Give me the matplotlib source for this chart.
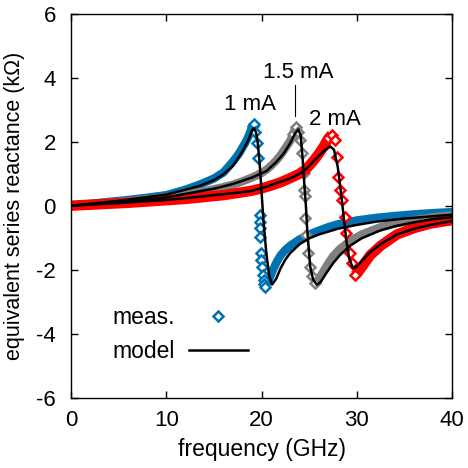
import numpy as np
import matplotlib
matplotlib.use("Agg")
import matplotlib.pyplot as plt
from matplotlib.lines import Line2D

plt.rcParams["font.family"] = ["Liberation Sans", "DejaVu Sans"]
plt.rcParams["axes.unicode_minus"] = False

# --------- data ---------
# measured, 1 mA
blue_f = [0, 2, 4, 6, 8, 10, 12, 13.5, 15, 16, 17, 17.6, 18.2, 18.6, 18.9, 19.1, 19.2,
          19.35, 19.5, 19.65, 19.8, 19.82, 19.84, 19.86, 19.95, 19.98, 20.0, 20.1, 20.2, 20.25, 20.4,
          20.8, 21.2, 21.6, 22.0, 22.5, 23, 24, 25, 26, 27, 28, 30, 32, 34, 36, 38, 40]
blue_x = [0.0, 0.06, 0.12, 0.18, 0.25, 0.33, 0.5, 0.66, 0.85, 1.04, 1.38, 1.62, 1.92, 2.15, 2.38, 2.5, 2.55,
          2.3, 1.95, 1.48, -0.3, -0.5, -0.71, -0.97, -1.49, -1.7, -1.91, -2.17, -2.32, -2.45, -2.53,
          -2.3, -2.0, -1.75, -1.55, -1.38, -1.25, -1.05, -0.9, -0.78, -0.67, -0.58, -0.46, -0.38, -0.32, -0.27, -0.23, -0.2]

# measured, 1.5 mA
gray_f = [0, 2, 4, 6, 8, 10, 12, 14, 16, 17, 18, 19, 20, 20.5, 21, 21.5, 22, 22.5, 23, 23.3, 23.6,
          23.8, 24.0, 24.2, 24.4, 24.5, 24.55, 24.6, 24.7, 24.9, 25.1, 25.3, 25.6,
          26.0, 26.5, 27.0, 27.5, 28.2, 29.3, 30.5, 32.4, 34, 36, 38, 40]
gray_x = [0, 0.04, 0.09, 0.14, 0.2, 0.27, 0.35, 0.45, 0.58, 0.66, 0.76, 0.88, 1.02, 1.12, 1.25, 1.4, 1.58, 1.8, 2.02, 2.25, 2.46,
          2.3, 2.05, 1.64, 1.01, 0.49, 0.3, -0.4, -0.9, -1.49, -1.9, -2.2, -2.43,
          -2.3, -2.05, -1.8, -1.58, -1.36, -1.1, -0.9, -0.68, -0.56, -0.45, -0.36, -0.3]

# measured, 2 mA
red_f = [0, 2, 4, 6, 8, 10, 12, 14, 16, 18, 19, 20, 21, 22, 23, 24, 24.7, 25.5, 26, 26.5, 27.0, 27.35,
         27.7, 27.9, 28.05, 28.2, 28.4, 28.75, 28.9, 29.3, 29.45, 29.8,
         30.2, 30.8, 31.4, 32.5, 34.2, 36, 37.7, 40]
red_x = [0, 0.03, 0.06, 0.09, 0.13, 0.17, 0.21, 0.27, 0.33, 0.42, 0.47, 0.54, 0.63, 0.73, 0.86, 1.0, 1.15, 1.42, 1.62, 1.84, 2.1, 2.22,
         2.05, 1.53, 0.9, 0.49, 0.18, -0.34, -0.86, -1.49, -1.8, -2.17,
         -2.05, -1.8, -1.55, -1.25, -0.9, -0.7, -0.56, -0.45]

# model curves
bm_f = [0, 5, 10, 12, 13.5, 15, 16, 17, 18, 18.6, 19.0, 19.2, 19.4, 19.6, 19.8, 20.0, 20.2, 20.5, 20.8, 21.1,
        21.5, 22.0, 22.5, 23, 24, 25, 26, 28, 30, 32, 35, 38, 40]
bm_x = [0, 0.15, 0.35, 0.5, 0.62, 0.8, 0.98, 1.25, 1.7, 2.05, 2.35, 2.42, 2.3, 1.95, 1.3, 0.4, -0.5, -1.5, -2.2, -2.46,
        -2.3, -1.95, -1.68, -1.48, -1.2, -1.02, -0.9, -0.72, -0.6, -0.5, -0.4, -0.33, -0.28]

gm_f = [0, 5, 10, 13.5, 15, 17, 19, 20.5, 21.5, 22.3, 23.0, 23.5, 23.85, 24.1, 24.3, 24.5, 24.65, 24.8, 25.1, 25.4,
        25.8, 26.2, 26.8, 27.5, 28.2, 29.3, 30.5, 32.4, 34, 36, 38, 40]
gm_x = [0, 0.1, 0.26, 0.45, 0.53, 0.68, 0.88, 1.08, 1.35, 1.62, 1.95, 2.25, 2.38, 2.2, 1.5, 0.6, 0.0, -0.8, -1.9, -2.3,
        -2.47, -2.38, -2.1, -1.8, -1.55, -1.25, -1.02, -0.78, -0.64, -0.52, -0.42, -0.36]

rm_f = [0, 5, 10, 13.5, 15, 17, 18.75, 20.5, 21.5, 23.0, 24.0, 24.7, 25.5, 26.5, 27.2, 27.6, 28.0, 28.3, 28.6, 28.9,
        29.2, 29.6, 30.0, 30.6, 31.4, 32.5, 34.2, 36, 37.7, 40]
rm_x = [0, 0.08, 0.18, 0.28, 0.33, 0.39, 0.45, 0.59, 0.7, 0.85, 1.0, 1.15, 1.4, 1.7, 1.85, 1.75, 1.2, 0.5, -0.3, -1.1,
        -1.65, -1.96, -1.9, -1.7, -1.45, -1.2, -0.9, -0.72, -0.6, -0.48]

BLUE = "#0072b2"
GRAY = "#808080"
RED = "#ff0000"

series = [
    (blue_f, blue_x, bm_f, bm_x, BLUE, 6),
    (gray_f, gray_x, gm_f, gm_x, GRAY, 6),
    (red_f, red_x, rm_f, rm_x, RED, 7.5),
]

fig, ax = plt.subplots(figsize=(4.68, 4.68), dpi=100)
fig.subplots_adjust(left=0.152, right=0.966, bottom=0.150, top=0.971)

for mf, mx, lf, lx, col, bw in series:
    mf = np.array(mf)
    mx = np.array(mx)
    i_max = int(np.argmax(mx))
    i_min = int(np.argmin(mx))
    # dense measured points overlap into a band -> thick line on smooth branches
    ax.plot(mf[:i_max + 1], mx[:i_max + 1], color=col, lw=bw, solid_capstyle="butt", clip_on=False, zorder=2)
    ax.plot(mf[i_min:], mx[i_min:], color=col, lw=bw, solid_capstyle="butt", clip_on=False, zorder=2)
    # the jump: separate diamonds
    ax.plot(mf[i_max - 1:i_min + 1], mx[i_max - 1:i_min + 1], ls="none", marker="D", ms=5.5,
            mfc="white", mec=col, mew=1.8, zorder=2)
    ax.plot(lf, lx, color="black", lw=1.8, zorder=3)

ax.set_xlim(0, 40)
ax.set_ylim(-6, 6)
ax.set_xticks([0, 10, 20, 30, 40])
ax.set_yticks([-6, -4, -2, 0, 2, 4, 6])
ax.tick_params(direction="in", length=5, width=1, labelsize=16, top=True, right=True)
ax.tick_params(axis="x", pad=9)
ax.tick_params(axis="y", pad=11)
for sp in ax.spines.values():
    sp.set_linewidth(1)
ax.set_xlabel("frequency (GHz)", fontsize=16.5, labelpad=5)
ax.set_ylabel("equivalent series reactance (kΩ)", fontsize=15.5, labelpad=8)

# current labels
ax.text(18.8, 3.15, "1 mA", fontsize=16, ha="center", va="center")
ax.text(23.8, 4.15, "1.5 mA", fontsize=16, ha="center", va="center")
ax.plot([23.5, 23.5], [2.8, 3.77], color="black", lw=0.8)
ax.text(27.7, 2.69, "2 mA", fontsize=16, ha="center", va="center")

handles = [
    Line2D([], [], ls="none", marker="D", ms=5.5, mfc="white", mec=BLUE, mew=1.8),
    Line2D([], [], color="black", lw=1.8),
]
ax.legend(handles, ["meas.", "model"], loc="upper left", bbox_to_anchor=(0.108, 0.238),
          frameon=False, markerfirst=False, fontsize=16.5, handlelength=2.6,
          handletextpad=0.6, labelspacing=0.45, borderpad=0, borderaxespad=0)

plt.savefig("out.png", dpi=100)
plt.close(fig)
